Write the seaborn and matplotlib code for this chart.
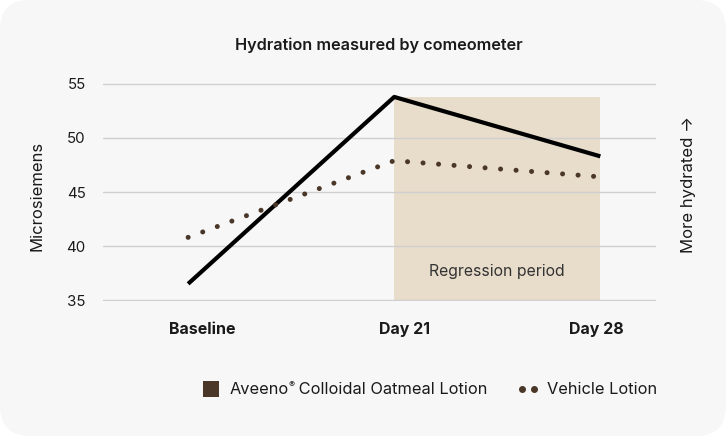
import matplotlib
matplotlib.use('Agg')
import matplotlib.pyplot as plt
import seaborn as sns
import pandas as pd
from matplotlib.patches import FancyBboxPatch, Rectangle
from matplotlib.lines import Line2D

# ---- data ----
timepoints = ["Baseline", "Day 21", "Day 28"]
aveeno = [36.5, 53.8, 48.3]
vehicle = [40.8, 47.9, 46.4]
yticks = [35, 40, 45, 50, 55]
region_label = "Regression period"

sns.set_theme(style="white")
plt.rcParams['font.family'] = ['Inter', 'DejaVu Sans']

W, H = 7.26, 4.36
fig = plt.figure(figsize=(W, H), dpi=100)
fig.patch.set_facecolor('white')
bg = FancyBboxPatch((0, 0), W, H, boxstyle="round,pad=0,rounding_size=0.3",
                    transform=fig.dpi_scale_trans, facecolor='#f7f7f7',
                    edgecolor='none', zorder=-10)
fig.add_artist(bg)

def px(x, y):
    return x / 726, 1 - y / 436

ax = fig.add_axes([103 / 726, 1 - 301 / 436, (656 - 103) / 726, (301 - 83) / 436])
ax.set_facecolor('none')

xpos = list(range(len(timepoints)))
df = pd.DataFrame({'x': xpos, 'aveeno': aveeno, 'vehicle': vehicle})

# shaded regression period (Day 21 -> Day 28)
ax.fill_between(xpos[1:], yticks[0], max(aveeno), color='#e8dccb', linewidth=0, zorder=1)

sns.lineplot(data=df, x='x', y='aveeno', ax=ax, color='black', linewidth=3.0,
             solid_capstyle='butt', zorder=3)
sns.lineplot(data=df, x='x', y='vehicle', ax=ax, color='#4a3728', linewidth=3.6,
             linestyle=(0, (0.01, 3.1)), dash_capstyle='round', zorder=3)

ax.set_xlim(-0.413, 2.27)
ax.set_ylim(yticks[0] - 0.09, yticks[-1] + 0.09)
ax.set_yticks(yticks)
ax.set_yticklabels([str(t) for t in yticks], fontsize=10.8, color='#1a1a1a')
ax.set_xticks([0.07, 1.05, 1.98])
ax.set_xticklabels(timepoints, fontsize=11.5, fontweight='bold', color='#1a1a1a')
ax.tick_params(axis='y', length=0, pad=12.5)
ax.tick_params(axis='x', length=0, pad=15)
ax.set_axisbelow('line')
ax.grid(axis='y', color='#cfcfcf', linewidth=1)
ax.grid(axis='x', visible=False)
for s in ax.spines.values():
    s.set_visible(False)
ax.set_xlabel('')
ax.set_ylabel('')

ax.text((xpos[1] + xpos[2]) / 2, 37.6, region_label, ha='center', va='center',
        fontsize=11.4, color='#333333', zorder=4)

fig.text(*px(379, 45), "Hydration measured by comeometer", ha='center', va='center',
         fontsize=11.7, fontweight='semibold', color='#1a1a1a')
fig.text(*px(37, 196), "Microsiemens", rotation=90, ha='center', va='center',
         fontsize=12, color='#1a1a1a')
fig.text(*px(688, 184), "More hydrated \u2192", rotation=90, ha='center', va='center',
         fontsize=12, color='#1a1a1a')

# legend
ly = 389
fig.add_artist(Rectangle(px(203, 397), 16 / 726, 16 / 436, transform=fig.transFigure,
                         facecolor='#4a3728', edgecolor='none'))
renderer = fig.canvas.get_renderer()
t1 = fig.text(*px(230, ly), "Aveeno", ha='left', va='center', fontsize=11.8, color='#1a1a1a')
bb = t1.get_window_extent(renderer)
x2 = bb.x1 / (W * 100) - 0.5 / 726
t2 = fig.text(x2, 1 - (ly - 4) / 436, "\u00ae", ha='left', va='center', fontsize=6.5, color='#1a1a1a')
bb2 = t2.get_window_extent(renderer)
fig.text(bb2.x1 / (W * 100) - 1 / 726, 1 - ly / 436, " Colloidal Oatmeal Lotion", ha='left', va='center',
         fontsize=11.8, color='#1a1a1a')
fig.add_artist(Line2D([522 / 726, 534 / 726], [1 - ly / 436] * 2, transform=fig.transFigure,
                      linestyle='none', marker='o', markersize=4, color='#4a3728'))
fig.text(*px(547, ly), "Vehicle Lotion", ha='left', va='center', fontsize=11.8, color='#1a1a1a')

fig.savefig('out.png', dpi=100, facecolor='white')
